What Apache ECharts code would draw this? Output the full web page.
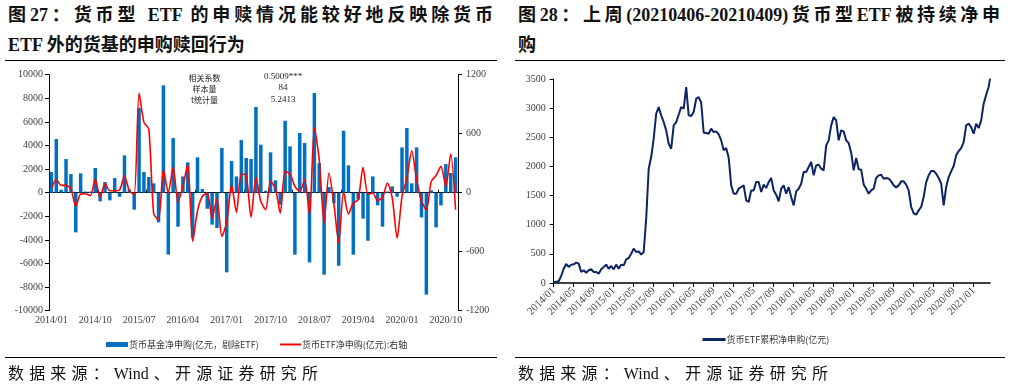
<!DOCTYPE html>
<html>
<head>
<meta charset="utf-8">
<script src="https://cdn.jsdelivr.net/npm/echarts@6/dist/echarts.min.js"></script>
<style>
  html, body { margin:0; padding:0; background:#fff; }
  #wrap { position:relative; width:1012px; height:392px; overflow:hidden; }
  #chart { position:absolute; left:0; top:0; width:1012px; height:392px; }
  .t { position:absolute; font-family:"Liberation Serif","Noto Sans CJK SC",serif; font-weight:bold; font-size:18px; color:#111; line-height:30px; white-space:nowrap; }
  .j { text-align:justify; text-align-last:justify; white-space:normal; }
  .src { position:absolute; font-family:"Liberation Serif","Noto Sans CJK SC",serif; font-size:16px; color:#111; line-height:20px; text-align:justify; text-align-last:justify; }
  .rule { position:absolute; height:1.5px; background:#000; }
</style>
</head>
<body>
<div id="wrap">
  <div class="t j" style="left:8px; top:0px; width:485px;">图27：货币型 ETF 的申赎情况能较好地反映除货币</div>
  <div class="t" style="left:8px; top:30px;">ETF 外的货基的申购赎回行为</div>
  <div class="t j" style="left:518px; top:0px; width:482px;">图28：上周(20210406-20210409)货币型ETF被持续净申</div>
  <div class="t" style="left:518px; top:30px;">购</div>
  <div class="rule" style="left:5px; top:59.5px; width:492px;"></div>
  <div class="rule" style="left:515px; top:59.5px; width:490px;"></div>
  <div class="rule" style="left:5px; top:356.5px; width:492px;"></div>
  <div class="rule" style="left:515px; top:356.5px; width:490px;"></div>
  <div id="chart"></div>
  <div class="src" style="left:8px; top:364px; width:310px;">数据来源：Wind、开源证券研究所</div>
  <div class="src" style="left:518px; top:364px; width:310px;">数据来源：Wind、开源证券研究所</div>
</div>
<script>
// ---- Left chart: monthly 2014/01 - 2020/12 ----
const fundNetPurchase = [
  1750, 4550, 250, 2850, 1580, -3360, 1640, 100, 100, 2090, -730, 900,
  -650, 1240, -340, 3160, 280, -1440, 7170, 1750, 1330, 790, -2510, 9100,
  -5250, 4630, -2880, 1380, 2570, -3800, 3000, 310, -1360, -2710, -2990, 3790,
  -6750, 2680, 1380, 4460, 2940, 2850, 7260, 4070, 170, 3420, 1050, -1020,
  6100, 3930, -5250, 5060, 4210, -5900, 8450, 2510, -6950, 480, -880, -6190,
  5250, 2320, -5250, -590, -2200, -4070, 1380, -1070, -2880, 100, 540, -340,
  3840, 5480, 790, 3840, -2090, -8640, 200, -2940, -1070, 2430, 1670, 3000
];
const etfNetPurchase = [
  48, 132, 75, 75, 40, -136, -13, -10, -30, 139, -48, 91,
  20, 20, 27, 170, 20, -20, 1014, 715, 647, -214, -275, 234,
  0, 261, -95, 64, 291, -495, -183, -37, -4, -258, -61, -444,
  -300, 75, -200, 190, 176, -247, 156, -88, -173, 115, 47, -207,
  217, 190, 64, 14, 132, -224, 658, 336, -308, 200, -105, -512,
  10, -217, -105, -71, 258, -14, -3, -81, -47, 98, -54, -461,
  -37, 149, 427, 132, -88, -173, 115, 176, 268, 64, 393, -173
];
const statLabels = ['相关系数', '样本量', 't统计量'];
const statValues = ['0.5009***', '84', '5.2413'];

const monthCats = [];
for (let y = 2014; y <= 2020; y++) {
  for (let m = 1; m <= 12; m++) monthCats.push(y + '/' + (m < 10 ? '0' + m : m));
}

// ---- Right chart: cumulative ETF net purchase, sampled twice a month (1st, 16th) from 2014/01 ----
const etfCumulative = [
  10, 20, 30, 120, 245, 326, 275, 315, 320, 349, 332, 189, 218, 177, 218, 235,
  189, 189, 160, 235, 275, 315, 245, 292, 235, 315, 245, 315, 303, 406, 429, 503,
  589, 532, 543, 486, 532, 1104, 1961, 2161, 2476, 2904, 3019, 2876, 2761, 2619, 2390, 2304,
  2704, 2761, 2887, 3019, 2990, 3362, 2876, 2864, 2933, 3162, 3190, 3093, 2578, 2573, 2561, 2647,
  2590, 2601, 2550, 2447, 2276, 2316, 2150, 1675, 1532, 1532, 1618, 1647, 1675, 1418, 1389, 1589,
  1589, 1732, 1732, 1561, 1687, 1630, 1732, 1801, 1589, 1515, 1401, 1618, 1675, 1532, 1647, 1475,
  1332, 1572, 1618, 1704, 1904, 1904, 1990, 2075, 1847, 2018, 2030, 1961, 1932, 2361, 2447, 2704,
  2847, 2790, 2447, 2619, 2601, 2447, 2401, 2236, 1933, 2144, 1950, 1944, 1692, 1618, 1532, 1589,
  1618, 1801, 1847, 1858, 1790, 1801, 1790, 1744, 1675, 1641, 1675, 1744, 1744, 1687, 1589, 1304,
  1195, 1172, 1246, 1304, 1475, 1732, 1847, 1921, 1921, 1875, 1801, 1704, 1332, 1647, 1818, 1915,
  2007, 2190, 2264, 2315, 2418, 2704, 2733, 2676, 2561, 2733, 2658, 2790, 3076, 3230, 3362
];
const etfLastDate = [2021, 4, 9];
const etfLastValue = 3505;
const startYear = 2014;

// x position measured in months since 2014/01
function monthPos(y, m, d) {
  const dim = new Date(y, m, 0).getDate();
  return (y - startYear) * 12 + (m - 1) + (d - 1) / dim;
}
const etfSeries = etfCumulative.map((v, k) => [k / 2, v]);
const lastPos = monthPos(etfLastDate[0], etfLastDate[1], etfLastDate[2]);
etfSeries.push([lastPos, etfLastValue]);

const tickPos = [];
for (let j = 0; j <= 21; j++) tickPos.push(4 * j);

const serif = 'Liberation Serif';
const cjk = 'Noto Sans CJK SC';
const labelColor = '#404040';
const plain = function (v) { return String(v); };

const chart = echarts.init(document.getElementById('chart'), null, { renderer: 'canvas' });
chart.setOption({
  animation: false,
  grid: [
    { left: 49, top: 74.7, width: 409, height: 236 },
    { left: 553.7, top: 79, width: 436.3, height: 204 }
  ],
  legend: [
    { data: [{ name: '货币基金净申购(亿元，剔除ETF)', icon: 'rect' }], left: 101, top: 335,
      itemWidth: 22, itemHeight: 5, itemGap: 4,
      textStyle: { fontFamily: cjk, fontSize: 9, color: '#333', padding: [0, 0, 0, -4] } },
    { data: ['货币ETF净申购(亿元):右轴'], left: 274, top: 335,
      itemWidth: 21, itemHeight: 8, itemStyle: { opacity: 0 }, lineStyle: { width: 2 },
      textStyle: { fontFamily: cjk, fontSize: 9, color: '#333', padding: [0, 0, 0, -4] } },
    { data: ['货币ETF累积净申购(亿元)'], left: 696, top: 330,
      itemWidth: 23, itemHeight: 8, itemStyle: { opacity: 0 }, lineStyle: { width: 3 },
      textStyle: { fontFamily: cjk, fontSize: 9, color: '#333', padding: [0, 0, 0, -4] } }
  ],
  xAxis: [
    { type: 'category', gridIndex: 0, data: monthCats, position: 'bottom', boundaryGap: true,
      axisLine: { show: false, onZero: false }, axisTick: { show: false },
      axisLabel: { interval: 8, fontFamily: serif, fontSize: 10, color: labelColor, margin: 5 },
      splitLine: { show: false } },
    { type: 'category', gridIndex: 0, data: monthCats, position: 'top', boundaryGap: true,
      axisLine: { show: true, onZero: true, onZeroAxisIndex: 0, lineStyle: { color: '#000', width: 1.2 } },
      axisTick: { show: true, interval: 9, length: 3, lineStyle: { color: '#000' } },
      axisLabel: { show: false }, splitLine: { show: false } },
    { type: 'value', gridIndex: 1, min: 0, max: lastPos,
      axisLine: { show: true, lineStyle: { color: '#000', width: 1.5 } },
      axisTick: { show: true, customValues: tickPos, length: 4, lineStyle: { color: '#000' } },
      axisLabel: { customValues: tickPos, rotate: 45, fontFamily: serif, fontSize: 10.5, color: labelColor, margin: 6,
        formatter: function (v) {
          const idx = Math.round(v);
          const y = startYear + Math.floor(idx / 12);
          const m = idx % 12 + 1;
          return y + '/' + (m < 10 ? '0' + m : m);
        } },
      splitLine: { show: false } }
  ],
  yAxis: [
    { type: 'value', gridIndex: 0, min: -10000, max: 10000, interval: 2000,
      axisLine: { show: true, lineStyle: { color: '#000' } },
      axisTick: { show: true, length: 4, lineStyle: { color: '#000' } },
      axisLabel: { fontFamily: serif, fontSize: 10, color: labelColor, margin: 6, formatter: plain },
      splitLine: { show: false } },
    { type: 'value', gridIndex: 0, position: 'right', min: -1200, max: 1200, interval: 600,
      axisLine: { show: true, lineStyle: { color: '#000' } },
      axisTick: { show: true, length: 4, lineStyle: { color: '#000' } },
      axisLabel: { fontFamily: serif, fontSize: 10, color: labelColor, margin: 8, formatter: plain },
      splitLine: { show: false } },
    { type: 'value', gridIndex: 1, min: 0, max: 3500, interval: 500,
      axisLine: { show: true, lineStyle: { color: '#000' } },
      axisTick: { show: true, length: 4, lineStyle: { color: '#000' } },
      axisLabel: { fontFamily: serif, fontSize: 10, color: labelColor, margin: 8, formatter: plain },
      splitLine: { show: false } }
  ],
  series: [
    { name: '货币基金净申购(亿元，剔除ETF)', type: 'bar', xAxisIndex: 0, yAxisIndex: 0,
      data: fundNetPurchase, barCategoryGap: '28%', itemStyle: { color: '#0070C0' } },
    { name: '货币ETF净申购(亿元):右轴', type: 'line', xAxisIndex: 0, yAxisIndex: 1,
      data: etfNetPurchase, symbol: 'none', smooth: 0.25,
      lineStyle: { color: '#FF0000', width: 1.6 }, itemStyle: { color: '#FF0000' }, z: 3 },
    { name: '货币ETF累积净申购(亿元)', type: 'line', xAxisIndex: 2, yAxisIndex: 2,
      data: etfSeries, symbol: 'none',
      lineStyle: { color: '#0C2461', width: 2 }, itemStyle: { color: '#0C2461' } }
  ],
  graphic: [
    { type: 'text', x: 204.5, y: 78, style: { text: statLabels[0], font: '8px "Noto Sans CJK SC"', fill: '#222', align: 'center', verticalAlign: 'middle' } },
    { type: 'text', x: 204.5, y: 89, style: { text: statLabels[1], font: '8px "Noto Sans CJK SC"', fill: '#222', align: 'center', verticalAlign: 'middle' } },
    { type: 'text', x: 204.5, y: 100, style: { text: statLabels[2], font: '8px "Noto Sans CJK SC"', fill: '#222', align: 'center', verticalAlign: 'middle' } },
    { type: 'text', x: 283, y: 76.5, style: { text: statValues[0], font: '9px "Liberation Serif"', fill: '#222', align: 'center', verticalAlign: 'middle' } },
    { type: 'text', x: 283, y: 88, style: { text: statValues[1], font: '9px "Liberation Serif"', fill: '#222', align: 'center', verticalAlign: 'middle' } },
    { type: 'text', x: 283, y: 99.5, style: { text: statValues[2], font: '9px "Liberation Serif"', fill: '#222', align: 'center', verticalAlign: 'middle' } }
  ]
});
</script>
</body>
</html>
